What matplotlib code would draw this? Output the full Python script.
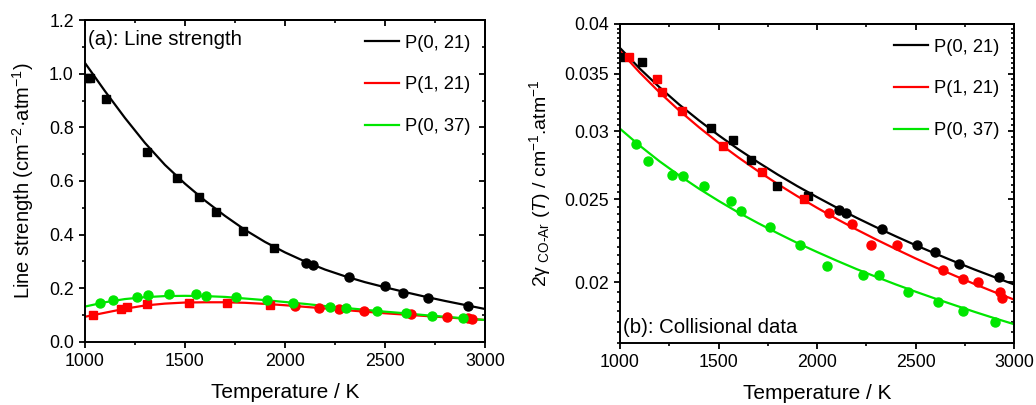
import matplotlib
matplotlib.use('Agg')
import matplotlib.pyplot as plt
from matplotlib.ticker import MultipleLocator, FixedLocator, FormatStrFormatter, NullFormatter, FuncFormatter

plt.rcParams['font.family'] = ['Liberation Sans', 'DejaVu Sans']
plt.rcParams['mathtext.fontset'] = 'custom'
plt.rcParams['mathtext.rm'] = 'Liberation Sans'
plt.rcParams['mathtext.it'] = 'Liberation Sans:italic'
plt.rcParams['mathtext.default'] = 'regular'

# ---- (a) line strength: measured points ----
s_p021_T = [1008, 1025, 1103, 1312, 1458, 1568, 1655, 1792, 1947,
            2103, 2138, 2322, 2498, 2588, 2713, 2917]
s_p021 = [0.985, 0.983, 0.904, 0.709, 0.612, 0.542, 0.486, 0.414, 0.351,
          0.296, 0.286, 0.243, 0.209, 0.184, 0.163, 0.135]
s_p021_sq = 9   # first n points are squares, rest circles

s_p121_T = [1038, 1178, 1208, 1308, 1518, 1712, 1927,
            2050, 2172, 2268, 2395, 2628, 2812, 2915, 2935]
s_p121 = [0.099, 0.124, 0.129, 0.140, 0.147, 0.147, 0.138,
          0.134, 0.125, 0.122, 0.116, 0.103, 0.092, 0.089, 0.085]
s_p121_sq = 7

s_p037_T = [1075, 1138, 1262, 1313, 1420, 1555, 1605, 1753, 1910, 2042,
            2225, 2305, 2458, 2607, 2737, 2892]
s_p037 = [0.147, 0.157, 0.167, 0.174, 0.179, 0.179, 0.173, 0.167, 0.157, 0.144,
          0.132, 0.127, 0.117, 0.107, 0.098, 0.091]

# ---- (a) fitted curves, read every 100 K ----
fit_T = [1000, 1100, 1200, 1300, 1400, 1500, 1600, 1700, 1800, 1900, 2000,
         2100, 2200, 2300, 2400, 2500, 2600, 2700, 2800, 2900, 3000]
fit_s_p021 = [1.040, 0.935, 0.835, 0.742, 0.660, 0.590, 0.527, 0.470, 0.418, 0.373, 0.334,
              0.300, 0.270, 0.245, 0.223, 0.204, 0.186, 0.169, 0.153, 0.138, 0.123]
fit_s_p121 = [0.094, 0.109, 0.124, 0.136, 0.143, 0.147, 0.148, 0.148, 0.146, 0.142, 0.137,
              0.131, 0.125, 0.119, 0.113, 0.107, 0.102, 0.097, 0.092, 0.087, 0.082]
fit_s_p037 = [0.132, 0.148, 0.160, 0.167, 0.171, 0.172, 0.171, 0.168, 0.162, 0.156, 0.149,
              0.142, 0.134, 0.127, 0.120, 0.113, 0.107, 0.100, 0.094, 0.088, 0.082]

# ---- (b) collisional broadening: measured points ----
g_p021_T = [1005, 1110, 1462, 1572, 1665, 1798, 1953,
            2112, 2147, 2330, 2506, 2597, 2722, 2925]
g_p021 = [0.0366, 0.0361, 0.0303, 0.0293, 0.0278, 0.0259, 0.0252,
          0.0243, 0.0241, 0.0231, 0.0221, 0.0217, 0.0210, 0.0203]
g_p021_sq = 7

g_p121_T = [1046, 1186, 1212, 1313, 1525, 1719, 1934,
            2061, 2179, 2274, 2404, 2638, 2743, 2819, 2929, 2941]
g_p121 = [0.0366, 0.0345, 0.0333, 0.0317, 0.0288, 0.0269, 0.0250,
          0.0241, 0.0234, 0.0221, 0.0221, 0.0207, 0.0202, 0.0200, 0.0195, 0.0192]
g_p121_sq = 7

g_p037_T = [1080, 1144, 1265, 1318, 1428, 1562, 1614, 1763, 1914,
            2049, 2232, 2313, 2463, 2612, 2743, 2904]
g_p037 = [0.0290, 0.0277, 0.0267, 0.0266, 0.0259, 0.0249, 0.0242, 0.0232, 0.0221,
          0.0209, 0.0204, 0.0204, 0.0195, 0.0190, 0.0185, 0.0180]

fit_g_p021 = [0.03750, 0.03549, 0.03376, 0.03223, 0.03089, 0.02968, 0.02859, 0.02761, 0.02671, 0.02589, 0.02514,
              0.02444, 0.02379, 0.02319, 0.02263, 0.02210, 0.02161, 0.02114, 0.02070, 0.02029, 0.01989]
fit_g_p121 = [0.03720, 0.03511, 0.03330, 0.03172, 0.03033, 0.02908, 0.02797, 0.02696, 0.02604, 0.02520, 0.02443,
              0.02371, 0.02305, 0.02244, 0.02187, 0.02133, 0.02083, 0.02036, 0.01991, 0.01949, 0.01910]
fit_g_p037 = [0.03020, 0.02886, 0.02768, 0.02665, 0.02572, 0.02489, 0.02413, 0.02345, 0.02282, 0.02223, 0.02170,
              0.02120, 0.02073, 0.02030, 0.01989, 0.01951, 0.01915, 0.01881, 0.01848, 0.01817, 0.01788]

labels = ['P(0, 21)', 'P(1, 21)', 'P(0, 37)']
colors = ['black', '#ff0000', '#00e600']

fig = plt.figure(figsize=(10.36, 4.05), dpi=100)
ax1 = fig.add_axes([0.0820, 0.1556, 0.3861, 0.7950])
ax2 = fig.add_axes([0.5985, 0.1531, 0.3803, 0.7877])


def draw_points(ax, T, v, nsq, c):
    ax.plot(T[:nsq], v[:nsq], 's', color=c, ms=5.5, mec=c, zorder=3)
    ax.plot(T[nsq:], v[nsq:], 'o', color=c, ms=6.5, mec=c, zorder=3)


# panel a
for fit, c, lab in zip([fit_s_p021, fit_s_p121, fit_s_p037], colors, labels):
    ax1.plot(fit_T, fit, '-', color=c, lw=1.6, label=lab, zorder=2)
draw_points(ax1, s_p021_T, s_p021, s_p021_sq, colors[0])
draw_points(ax1, s_p121_T, s_p121, s_p121_sq, colors[1])
draw_points(ax1, s_p037_T, s_p037, 0, colors[2])
ax1.set_xlim(1000, 3000)
ax1.set_ylim(0, 1.2)
ax1.yaxis.set_major_locator(MultipleLocator(0.2))
ax1.yaxis.set_minor_locator(MultipleLocator(0.1))
ax1.yaxis.set_major_formatter(FormatStrFormatter('%.1f'))
ax1.set_ylabel('Line strength (cm$^{-2}$·atm$^{-1}$)', fontsize=14.5, labelpad=9)
ax1.text(0.008, 0.94, '(a): Line strength', transform=ax1.transAxes, fontsize=14.7, va='center')

# panel b
for fit, c, lab in zip([fit_g_p021, fit_g_p121, fit_g_p037], colors, labels):
    ax2.plot(fit_T, fit, '-', color=c, lw=1.6, label=lab, zorder=2)
draw_points(ax2, g_p021_T, g_p021, g_p021_sq, colors[0])
draw_points(ax2, g_p121_T, g_p121, g_p121_sq, colors[1])
draw_points(ax2, g_p037_T, g_p037, 0, colors[2])
ax2.set_yscale('log')
ax2.set_xlim(1000, 3000)
ax2.set_ylim(0.017, 0.04)
ax2.yaxis.set_major_locator(FixedLocator([0.02, 0.025, 0.03, 0.035, 0.04]))
ax2.yaxis.set_minor_locator(MultipleLocator(0.0005))
ax2.yaxis.set_major_formatter(FuncFormatter(lambda v, p: '%g' % v))
ax2.yaxis.set_minor_formatter(NullFormatter())
ax2.set_ylabel(r'2$\gamma_{\ \mathrm{CO\text{-}Ar}}$ ($\mathit{T}$) / cm$^{-1}$.atm$^{-1}$', fontsize=14, labelpad=8)
ax2.text(0.008, 0.05, '(b): Collisional data', transform=ax2.transAxes, fontsize=14.7, va='center')

for ax in (ax1, ax2):
    ax.xaxis.set_major_locator(MultipleLocator(500))
    ax.xaxis.set_minor_locator(MultipleLocator(250))
    ax.set_xlabel('Temperature / K', fontsize=15, labelpad=9)
    for sp in ax.spines.values():
        sp.set_linewidth(1.4)
    ax.tick_params(which='major', direction='out', length=4.5, width=1.3, labelsize=12.8)
    ax.tick_params(which='minor', direction='out', length=2.5, width=1.2)
    ax.legend(loc='upper right', frameon=False, fontsize=13.2, handlelength=1.85,
              labelspacing=1.35, handletextpad=0.3, borderaxespad=0.5, borderpad=0.3)
    # mirrored ticks pointing inward on top and right
    top = ax.secondary_xaxis('top')
    top.xaxis.set_major_locator(MultipleLocator(500))
    top.xaxis.set_minor_locator(MultipleLocator(250))
    top.tick_params(which='major', direction='in', length=4.5, width=1.3, labeltop=False)
    top.tick_params(which='minor', direction='in', length=2.5, width=1.2)
    top.spines['top'].set_linewidth(1.4)
    right = ax.secondary_yaxis('right')
    right.yaxis.set_major_locator(ax.yaxis.get_major_locator())
    right.yaxis.set_minor_locator(ax.yaxis.get_minor_locator())
    right.tick_params(which='major', direction='in', length=4.5, width=1.3, labelright=False)
    right.tick_params(which='minor', direction='in', length=2.5, width=1.2)
    right.yaxis.set_minor_formatter(NullFormatter())
    right.spines['right'].set_linewidth(1.4)

fig.savefig('out.png', dpi=100)
